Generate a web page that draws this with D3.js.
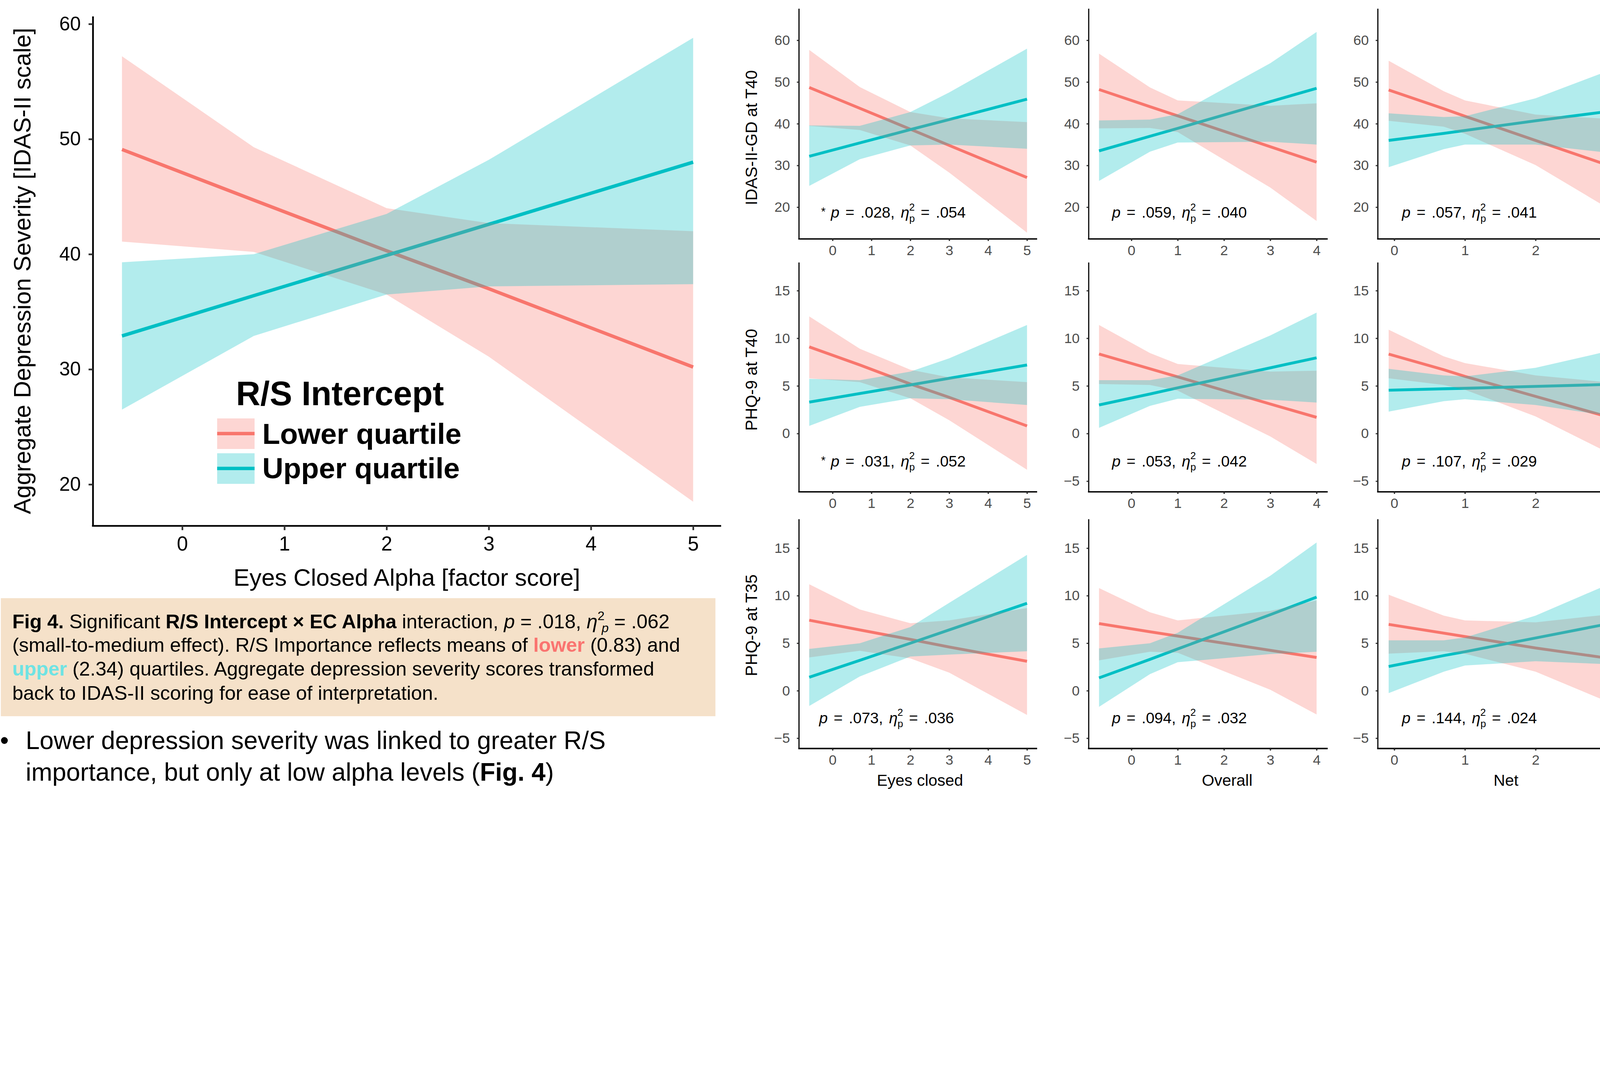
<!DOCTYPE html>
<html>
<head>
<meta charset="utf-8">
<script src="https://cdn.jsdelivr.net/npm/d3@7"></script>
<style>
  html, body { margin: 0; padding: 0; background: #fff; overflow: hidden; }
  svg { display: block; width: 100vw; height: auto; font-family: "Liberation Sans", Arial, sans-serif; }
</style>
</head>
<body>
<svg id="chart"></svg>
<script>
// ---- main chart data: rows are [lower CI, fit, upper CI] at each x ----
const mainX = [-0.59, 0.7, 2.0, 3.0, 5.0];
const mainLower = [[41.1, 49.1, 57.2], [40.2, 44.7, 49.3], [36.5, 40.3, 44.0], [31.1, 37.0, 42.7], [18.5, 30.2, 42.0]];
const mainUpper = [[26.5, 32.9, 39.3], [32.9, 36.4, 40.0], [36.5, 39.9, 43.5], [37.2, 42.6, 48.2], [37.4, 48.0, 58.8]];
const mainYTicks = [20, 30, 40, 50, 60];
const mainXTicks = [0, 1, 2, 3, 4, 5];
const groupNames = ["Lower quartile", "Upper quartile"];
const groupColors = ["#F8766D", "#00BFC4"];

// ---- small multiples ----
const ecX = [-0.6, 0.7, 2.0, 3.0, 5.0];
const ovX = [-0.7, 0.4, 1.0, 3.0, 4.0];
const netX = [-0.08, 0.7, 1.0, 2.0, 3.0];

const idasEcLow = [[39.5, 48.7, 57.7], [38.5, 43.7, 48.8], [34.8, 38.7, 42.8], [28.3, 34.8, 41.3], [13.9, 27.1, 40.4]];
const idasEcUp = [[25.1, 32.2, 39.6], [31.5, 35.4, 39.5], [34.8, 38.6, 42.8], [35.0, 41.0, 47.5], [34.0, 45.9, 58.0]];
const idasOvLow = [[38.9, 48.2, 56.8], [39.0, 44.1, 48.7], [38.0, 41.9, 45.6], [24.7, 34.5, 44.3], [16.7, 30.8, 44.9]];
const idasOvUp = [[26.3, 33.5, 40.8], [33.3, 37.0, 41.0], [35.5, 38.9, 42.3], [35.7, 45.3, 54.5], [35.0, 48.5, 62.0]];
const idasNetLow = [[40.7, 48.1, 55.1], [39.3, 43.6, 47.8], [37.6, 41.8, 45.6], [30.1, 36.0, 42.2], [20.0, 30.2, 41.2]];
const idasNetUp = [[29.6, 36.0, 42.5], [33.9, 37.7, 41.6], [35.0, 38.4, 41.8], [35.0, 40.7, 46.1], [33.1, 42.9, 52.5]];

const phq40EcLow = [[5.8, 9.1, 12.3], [5.4, 7.2, 8.9], [3.7, 5.2, 6.7], [1.4, 3.8, 5.9], [-3.8, 0.8, 5.4]];
const phq40EcUp = [[0.8, 3.3, 5.75], [2.8, 4.2, 5.6], [3.7, 5.1, 6.5], [3.6, 5.8, 7.9], [3.0, 7.2, 11.4]];
const phq40OvLow = [[5.2, 8.35, 11.4], [5.1, 6.8, 8.45], [4.5, 5.95, 7.3], [-0.3, 3.1, 6.5], [-3.2, 1.7, 6.6]];
const phq40OvUp = [[0.6, 3.0, 5.6], [2.9, 4.15, 5.6], [3.65, 4.8, 6.1], [3.55, 6.9, 10.3], [3.25, 7.95, 12.7]];
const phq40NetLow = [[5.8, 8.34, 10.9], [5.1, 6.7, 8.1], [4.6, 6.0, 7.4], [1.8, 3.9, 6.1], [-1.9, 1.8, 5.4]];
const phq40NetUp = [[2.3, 4.55, 6.8], [3.4, 4.7, 6.1], [3.6, 4.75, 6.0], [3.0, 4.95, 6.9], [1.9, 5.15, 8.6]];

const phq35EcLow = [[3.5, 7.42, 11.2], [4.2, 6.4, 8.55], [3.4, 5.4, 7.1], [1.9, 4.6, 7.4], [-2.55, 3.1, 8.7]];
const phq35EcUp = [[-1.6, 1.42, 4.4], [1.5, 3.2, 5.0], [3.6, 5.0, 6.7], [3.8, 6.4, 9.25], [4.15, 9.2, 14.3]];
const phq35OvLow = [[3.2, 7.07, 10.8], [4.1, 6.2, 8.25], [4.0, 5.75, 7.4], [0.1, 4.25, 8.4], [-2.5, 3.5, 9.5]];
const phq35OvUp = [[-1.7, 1.35, 4.45], [1.75, 3.3, 5.0], [3.0, 4.4, 6.1], [3.85, 8.0, 12.1], [4.1, 9.85, 15.6]];
const phq35NetLow = [[3.9, 6.98, 10.1], [4.15, 6.06, 7.9], [3.9, 5.7, 7.4], [2.0, 4.5, 7.2], [-1.1, 3.45, 8.0]];
const phq35NetUp = [[-0.25, 2.55, 5.3], [2.0, 3.7, 5.3], [2.65, 4.1, 5.6], [3.1, 5.55, 7.9], [2.8, 7.0, 11.1]];

// [star, p, eta squared]
const idasNotes = [["*", ".028", ".054"], ["", ".059", ".040"], ["", ".057", ".041"]];
const phq40Notes = [["*", ".031", ".052"], ["", ".053", ".042"], ["", ".107", ".029"]];
const phq35Notes = [["", ".073", ".036"], ["", ".094", ".032"], ["", ".144", ".024"]];

const rowTitles = ["IDAS-II-GD at T40", "PHQ-9 at T40", "PHQ-9 at T35"];
const colTitles = ["Eyes closed", "Overall", "Net"];
const idasTicks = [20, 30, 40, 50, 60];
const phqTicks = [-5, 0, 5, 10, 15];
const phqTicksNoNeg = [0, 5, 10, 15];
const ecTicks = [0, 1, 2, 3, 4, 5];
const ovTicks = [0, 1, 2, 3, 4];
const netTicks = [0, 1, 2];   // the "3" tick falls past the right edge of the page

const W = 5600, H = 2764;
const svg = d3.select("#chart")
    .attr("viewBox", `0 0 ${W} ${H}`)
    .attr("preserveAspectRatio", "xMinYMin meet");
const fmt = d3.format("d");

function drawBands(g, x, y, xs, low, up, lw) {
    const area = d3.area()
        .x((d, i) => x(xs[i]))
        .y0(d => y(d[0]))
        .y1(d => y(d[2]));
    const line = d3.line()
        .x((d, i) => x(xs[i]))
        .y(d => y(d[1]));
    // lines first, ribbons over them (same look as the ggplot output)
    [low, up].forEach((s, k) => {
        g.append("path").attr("d", line(s))
            .attr("fill", "none").attr("stroke", groupColors[k]).attr("stroke-width", lw);
    });
    [low, up].forEach((s, k) => {
        g.append("path").attr("d", area(s))
            .attr("fill", groupColors[k]).attr("fill-opacity", 0.3);
    });
}

function styleAxis(a, lineW, tickCol, labelCol, fs) {
    a.select(".domain").attr("stroke", "#000").attr("stroke-width", lineW);
    a.selectAll(".tick line").attr("stroke", tickCol).attr("stroke-width", lineW);
    a.selectAll(".tick text").attr("fill", labelCol).attr("font-size", fs)
        .attr("font-family", "'Liberation Sans', Arial, sans-serif");
}

// ================= main chart =================
const mx = d3.scaleLinear().domain([-0.875, 5.274]).range([325, 2524]);
const my = d3.scaleLinear().domain([16.4, 60.67]).range([1840, 57]);
const mainG = svg.append("g");
drawBands(mainG, mx, my, mainX, mainLower, mainUpper, 12);

const mYAxis = mainG.append("g").attr("transform", "translate(325,0)")
    .call(d3.axisLeft(my).tickValues(mainYTicks).tickFormat(fmt)
        .tickSize(15).tickSizeOuter(0).tickPadding(27));
styleAxis(mYAxis, 6, "#333", "#000", 68);
const mXAxis = mainG.append("g").attr("transform", "translate(0,1840)")
    .call(d3.axisBottom(mx).tickValues(mainXTicks).tickFormat(fmt)
        .tickSize(15).tickSizeOuter(0).tickPadding(22));
styleAxis(mXAxis, 6, "#333", "#000", 70);
mXAxis.select(".domain").attr("d", "M322,0H2524");

mainG.append("text")
    .attr("transform", "translate(107,948) rotate(-90)")
    .attr("text-anchor", "middle").attr("font-size", 83)
    .text("Aggregate Depression Severity [IDAS-II scale]");
mainG.append("text")
    .attr("x", 1424).attr("y", 2050)
    .attr("text-anchor", "middle").attr("font-size", 84)
    .text("Eyes Closed Alpha [factor score]");

// legend
const leg = mainG.append("g");
leg.append("text").attr("x", 826).attr("y", 1418)
    .attr("font-size", 118).attr("font-weight", "bold").text("R/S Intercept");
groupNames.forEach((name, k) => {
    const top = 1464 + k * 122;
    leg.append("rect").attr("x", 760).attr("y", top).attr("width", 131).attr("height", 107)
        .attr("fill", groupColors[k]).attr("fill-opacity", 0.3);
    leg.append("line").attr("x1", 760).attr("x2", 891)
        .attr("y1", top + 53).attr("y2", top + 53)
        .attr("stroke", groupColors[k]).attr("stroke-width", 12);
    leg.append("text").attr("x", 918).attr("y", 1553 + k * 121)
        .attr("font-size", 102).attr("font-weight", "bold").text(name);
});

// ================= caption box =================
svg.append("rect").attr("x", 3).attr("y", 2093).attr("width", 2501).attr("height", 413)
    .attr("fill", "#F5E1C9");

function richLine(x, y, fs, runs) {
    const t = svg.append("text").attr("x", x).attr("y", y).attr("font-size", fs);
    runs.forEach(r => {
        const s = t.append("tspan").text(r.t);
        if (r.b) s.attr("font-weight", "bold");
        if (r.i) s.attr("font-style", "italic");
        if (r.c) s.attr("fill", r.c);
        if (r.fs) s.attr("font-size", r.fs);
        if (r.dx) s.attr("dx", r.dx);
        if (r.dy) s.attr("dy", r.dy);
    });
    return t;
}
richLine(43, 2198, 69, [
    { t: "Fig 4.", b: true }, { t: " Significant " },
    { t: "R/S Intercept × EC Alpha", b: true }, { t: " interaction, " },
    { t: "p", i: true }, { t: " = .018, " }, { t: "η", i: true },
    { t: "2", fs: 44, dy: -28 }, { t: "p", i: true, fs: 44, dx: -10, dy: 42 },
    { t: " = .062", fs: 69, dy: -14 }
]);
richLine(43, 2281, 69, [
    { t: "(small-to-medium effect). R/S Importance reflects means of " },
    { t: "lower", b: true, c: "#FA7470" }, { t: " (0.83) and" }
]);
richLine(43, 2364, 69, [
    { t: "upper", b: true, c: "#6EE3E3" },
    { t: " (2.34) quartiles. Aggregate depression severity scores transformed" }
]);
richLine(43, 2448, 69, [{ t: "back to IDAS-II scoring for ease of interpretation." }]);

// bullet
svg.append("text").attr("x", 0).attr("y", 2621).attr("font-size", 88).text("•");
richLine(90, 2621, 88, [{ t: "Lower depression severity was linked to greater R/S" }]);
richLine(90, 2731, 88, [
    { t: "importance, but only at low alpha levels (" }, { t: "Fig. 4", b: true }, { t: ")" }
]);

// ================= panel grid =================
const rows = [
    { top: 30, bottom: 836, dom: [12.4, 67.6], ticks: [idasTicks, idasTicks, idasTicks],
      data: [[idasEcLow, idasEcUp], [idasOvLow, idasOvUp], [idasNetLow, idasNetUp]],
      notes: idasNotes, base: 762, titleY: 482 },
    { top: 918, bottom: 1721, dom: [-6.12, 17.97], ticks: [phqTicksNoNeg, phqTicks, phqTicks],
      data: [[phq40EcLow, phq40EcUp], [phq40OvLow, phq40OvUp], [phq40NetLow, phq40NetUp]],
      notes: phq40Notes, base: 1632, titleY: 1329 },
    { top: 1816, bottom: 2619, dom: [-6.08, 18.07], ticks: [phqTicks, phqTicks, phqTicks],
      data: [[phq35EcLow, phq35EcUp], [phq35OvLow, phq35OvUp], [phq35NetLow, phq35NetUp]],
      notes: phq35Notes, base: 2530, titleY: 2188 }
];
const cols = [
    { left: 2796, right: 3630, dom: [-0.867, 5.26], xs: ecX, ticks: ecTicks, labelX: 3220, noteX: 2908, noteX0: 2867 },
    { left: 3810, right: 4647, dom: [-0.926, 4.24], xs: ovX, ticks: ovTicks, labelX: 4295, noteX: 3892, noteX0: 3892 },
    { left: 4822, right: 5659, dom: [-0.235, 3.15], xs: netX, ticks: netTicks, labelX: 5271, noteX: 4907, noteX0: 4907 }
];

rows.forEach((row, r) => {
    svg.append("text")
        .attr("transform", `translate(2650,${row.titleY}) rotate(-90)`)
        .attr("text-anchor", "middle").attr("font-size", 58)
        .text(rowTitles[r]);

    cols.forEach((col, c) => {
        const g = svg.append("g");
        const x = d3.scaleLinear().domain(col.dom).range([col.left, col.right]);
        const y = d3.scaleLinear().domain(row.dom).range([row.bottom, row.top]);
        drawBands(g, x, y, col.xs, row.data[c][0], row.data[c][1], 10);

        const ya = g.append("g").attr("transform", `translate(${col.left},0)`)
            .call(d3.axisLeft(y).tickValues(row.ticks[c]).tickFormat(fmt)
                .tickSize(7).tickSizeOuter(0).tickPadding(24));
        styleAxis(ya, 4, "#333", "#4D4D4D", 49);
        const xa = g.append("g").attr("transform", `translate(0,${row.bottom})`)
            .call(d3.axisBottom(x).tickValues(col.ticks).tickFormat(fmt)
                .tickSize(7).tickSizeOuter(0).tickPadding(15));
        styleAxis(xa, 5, "#333", "#4D4D4D", 49);
        xa.select(".domain").attr("d", `M${col.left - 2},0H${col.right}`);

        // stats annotation
        const note = row.notes[c];
        const px = note[0] ? col.noteX : col.noteX0;
        if (note[0]) {
            g.append("text").attr("x", px - 34).attr("y", row.base - 8)
                .attr("font-size", 40).text(note[0]);
        }
        const t = g.append("text").attr("x", px).attr("y", row.base)
            .attr("font-size", 54).attr("word-spacing", 6);
        t.append("tspan").attr("font-style", "italic").text("p");
        t.append("tspan").text(` = ${note[1]}, `);
        t.append("tspan").attr("font-style", "italic").text("η");
        t.append("tspan").attr("font-size", 35).attr("dy", 14).text("p");
        t.append("tspan").attr("font-size", 35).attr("dx", -20).attr("dy", -39).text("2");
        t.append("tspan").attr("font-size", 54).attr("dy", 25).text(` = ${note[2]}`);

        if (r === rows.length - 1) {
            svg.append("text").attr("x", col.labelX).attr("y", 2750)
                .attr("text-anchor", "middle").attr("font-size", 56)
                .text(colTitles[c]);
        }
    });
});
</script>
</body>
</html>
